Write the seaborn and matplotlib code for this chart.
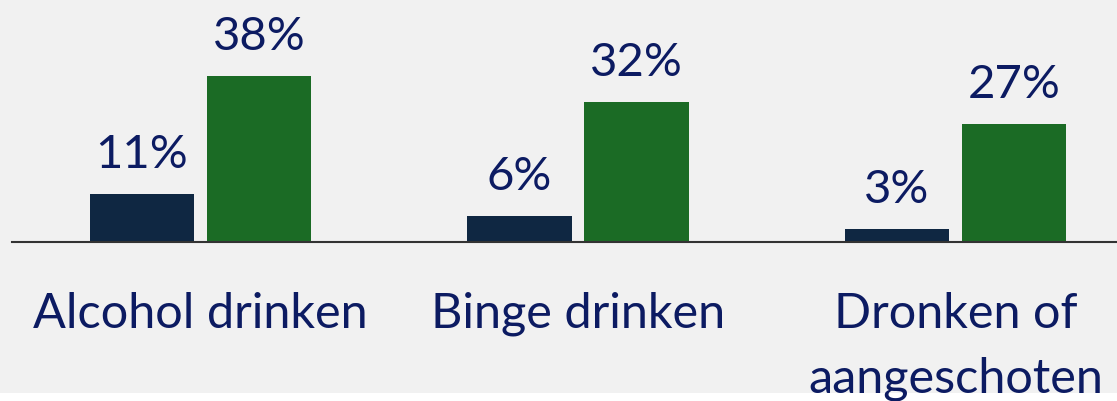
import pandas as pd
import seaborn as sns
import matplotlib.pyplot as plt
from matplotlib.patches import Rectangle

# data
categories = ['Alcohol drinken', 'Binge drinken', 'Dronken of\naangeschoten']
groups = ['groep 1', 'groep 2']
values_1 = [11, 6, 3]
values_2 = [38, 32, 27]

NAVY = '#0f2742'
GREEN = '#1b6b25'
TEXT = '#0c1b62'
BG = '#f1f1f1'

df = pd.DataFrame({
    'categorie': categories * 2,
    'groep': [groups[0]] * 3 + [groups[1]] * 3,
    'waarde': values_1 + values_2,
})

sns.set_style('white')
plt.rcParams['font.family'] = ['Lato', 'DejaVu Sans']

fig = plt.figure(figsize=(11.17, 4.01), dpi=100, facecolor='white')
fig.patches.append(Rectangle((0, 8 / 401), 1, 1, transform=fig.transFigure,
                             facecolor=BG, edgecolor='none', zorder=-1))

ax = fig.add_axes([11.75 / 1117, 159 / 401, 1132.5 / 1117, 218.5 / 401])
ax.set_facecolor('none')

sns.barplot(data=df, x='categorie', y='waarde', hue='groep',
            palette=[NAVY, GREEN], saturation=1, width=0.62, gap=0.111,
            linewidth=0, legend=False, ax=ax)

for cont in ax.containers:
    for bar in cont:
        h = bar.get_height()
        ax.annotate(f'{h:.0f}%', (bar.get_x() + bar.get_width() / 2, h),
                    xytext=(0, 18.7), textcoords='offset points',
                    ha='center', va='baseline', fontsize=34, color=TEXT)

ax.set_xlim(-0.5, 2.5)
ax.set_ylim(0, 50)
ax.set_xlabel('')
ax.set_ylabel('')
ax.set_yticks([])
sns.despine(ax=ax, left=True)
ax.spines['bottom'].set_color('#333333')
ax.spines['bottom'].set_linewidth(1.5)
ax.tick_params(axis='x', length=0, pad=36, labelsize=35, labelcolor=TEXT)
for lbl in ax.get_xticklabels():
    lbl.set_linespacing(1.56)

fig.savefig('out.png', dpi=100, facecolor=fig.get_facecolor())
